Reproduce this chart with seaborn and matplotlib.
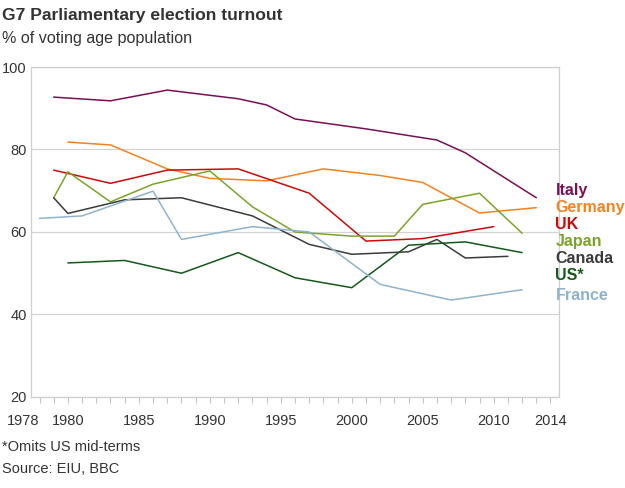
import pandas as pd
import matplotlib
matplotlib.use("Agg")
import matplotlib.pyplot as plt
import seaborn as sns

# Turnout, % of voting age population
italy_years = [1979, 1983, 1987, 1992, 1994, 1996, 2001, 2006, 2008, 2013]
italy_vals = [92.7, 91.8, 94.4, 92.3, 90.8, 87.4, 85.0, 82.3, 79.2, 68.3]

germany_years = [1980, 1983, 1987, 1990, 1994, 1998, 2002, 2005, 2009, 2013]
germany_vals = [81.8, 81.1, 75.3, 73.0, 72.4, 75.3, 73.7, 72.0, 64.6, 65.9]

uk_years = [1979, 1983, 1987, 1992, 1997, 2001, 2005, 2010]
uk_vals = [75.0, 71.8, 75.0, 75.3, 69.4, 57.8, 58.4, 61.3]

japan_years = [1979, 1980, 1983, 1986, 1990, 1993, 1996, 2000, 2003, 2005, 2009, 2012]
japan_vals = [68.3, 74.6, 67.3, 71.6, 74.8, 66.1, 60.0, 59.0, 59.0, 66.7, 69.4, 59.7]

canada_years = [1979, 1980, 1984, 1988, 1993, 1997, 2000, 2004, 2006, 2008, 2011]
canada_vals = [68.3, 64.5, 67.8, 68.3, 63.9, 57.0, 54.6, 55.2, 58.2, 53.7, 54.1]

us_years = [1980, 1984, 1988, 1992, 1996, 2000, 2004, 2008, 2012]
us_vals = [52.5, 53.1, 50.0, 55.0, 48.9, 46.5, 56.8, 57.6, 55.0]

france_years = [1978, 1981, 1986, 1988, 1993, 1997, 2002, 2007, 2012]
france_vals = [63.3, 63.9, 69.9, 58.2, 61.3, 60.0, 47.3, 43.5, 46.0]

countries = ["Italy", "Germany", "UK", "Japan", "Canada", "US*", "France"]
colors = ["#7a0f55", "#f5821f", "#cc0a0a", "#7ba428", "#3b3b3b", "#14581a", "#8db4cc"]
label_y = [70.0, 66.0, 61.8, 57.8, 53.6, 49.4, 44.6]

tick_years = [1978, 1980, 1985, 1990, 1995, 2000, 2005, 2010, 2014]

series = [
    (italy_years, italy_vals), (germany_years, germany_vals), (uk_years, uk_vals),
    (japan_years, japan_vals), (canada_years, canada_vals), (us_years, us_vals),
    (france_years, france_vals),
]
rows = []
for name, (yrs, vals) in zip(countries, series):
    for yr, v in zip(yrs, vals):
        rows.append({"country": name, "year": yr, "turnout": v})
df = pd.DataFrame(rows)

sns.set_theme(style="white", rc={"xtick.bottom": True, "xtick.minor.bottom": True})
plt.rcParams["font.family"] = ["Liberation Sans", "DejaVu Sans"]

fig = plt.figure(figsize=(6.25, 4.88), dpi=100)
ax = fig.add_axes([0.0496, 0.1865, 0.8448, 0.6762])

sns.lineplot(data=df, x="year", y="turnout", hue="country", hue_order=countries,
             palette=dict(zip(countries, colors)), linewidth=1.1, legend=False,
             estimator=None, sort=True, ax=ax)

ax.set_xlim(1977.4, 2014.6)
ax.set_ylim(20, 100)
ax.set_xlabel("")
ax.set_ylabel("")

# grid and frame
ax.set_yticks([20, 40, 60, 80, 100])
ax.yaxis.grid(True, color="#d3d3d3", linewidth=0.9)
ax.xaxis.grid(False)
for s in ax.spines.values():
    s.set_color("#cfcfcf")
    s.set_linewidth(0.9)
ax.tick_params(axis="y", length=0, pad=3, labelsize=10.5, labelcolor="#333333")

ax.set_xticks(tick_years)
ax.set_xticklabels([str(t) for t in tick_years])
ax.set_xticks(range(1978, 2015), minor=True)
ax.tick_params(axis="x", which="both", direction="out", length=4.5, width=0.8,
               color="#c4c4c4", bottom=True, pad=8, labelsize=10.5, labelcolor="#333333")
ax.get_xticklabels()[0].set_ha("right")

# country labels at right
for name, col, yv in zip(countries, colors, label_y):
    ax.text(2014.35, yv, name, color=col, fontsize=11.5, fontweight="bold",
            va="center", ha="left", clip_on=False)

fig.text(0.003, 0.968, "G7 Parliamentary election turnout", fontsize=12.6,
         fontweight="bold", color="#333333", va="center")
fig.text(0.003, 0.922, "% of voting age population", fontsize=11.6, color="#333333", va="center")
fig.text(0.003, 0.084, "*Omits US mid-terms", fontsize=10.5, color="#333333", va="center")
fig.text(0.003, 0.039, "Source: EIU, BBC", fontsize=10.5, color="#333333", va="center")

fig.savefig("out.png", dpi=100)
